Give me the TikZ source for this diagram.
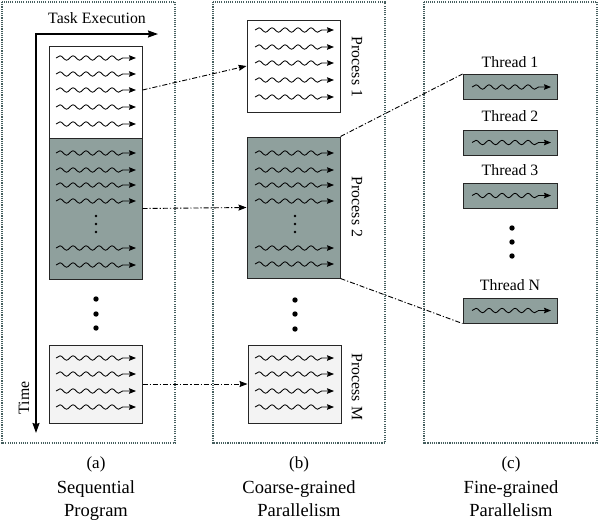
\documentclass[tikz,border=0pt]{standalone}
\usepackage{fontspec}
\setmainfont{Liberation Serif}
\usetikzlibrary{decorations.pathmorphing,arrows.meta}
\definecolor{darkfill}{RGB}{143,160,157}
\definecolor{lightfill}{RGB}{243,243,243}
\definecolor{framecol}{RGB}{70,95,95}
\begin{document}
\begin{tikzpicture}[x=1pt,y=-1pt,
  frame/.style={draw=framecol,line width=1.5pt,dash pattern=on 1.1pt off 1.1pt},
  blk/.style={draw=black!85,line width=1pt,inner sep=0pt,minimum width=93pt},
  whitebox/.style={blk,fill=white},
  darkbox/.style={blk,fill=darkfill},
  lightbox/.style={blk,fill=lightfill},
  threadbox/.style={draw=black!85,line width=1pt,fill=darkfill,inner sep=0pt,minimum width=94pt,minimum height=25pt},
  wave/.style={line width=0.85pt,-{Stealth[length=7pt,width=5.5pt,inset=1pt]},
    decorate,decoration={snake,segment length=13pt,amplitude=2.2pt,post length=8pt}},
  conn/.style={line width=0.9pt,dash pattern=on 5pt off 2pt on 1.2pt off 2pt},
  connarr/.style={conn,-{Stealth[length=8pt,width=6pt,inset=1pt]}},
  axis/.style={line width=1.5pt,{Stealth[length=10pt,width=7pt,inset=1pt]}-{Stealth[length=10pt,width=7pt,inset=1pt]}},
  lbl/.style={font=\fontsize{15.8}{18}\selectfont,inner sep=0pt},
  captext/.style={font=\fontsize{18.5}{22}\selectfont,inner sep=0pt,anchor=base},
  capletter/.style={font=\fontsize{17}{19}\selectfont,inner sep=0pt,anchor=base},
]
\useasboundingbox (0,0) rectangle (600,531);

% frames
\draw[frame] (2,2) rectangle (175,443);
\draw[frame] (213,2) rectangle (385,443);
\draw[frame] (424,2) rectangle (597,443);

% axis
\coordinate (axX) at (158,34);
\coordinate (axO) at (36,34);
\coordinate (axY) at (36,433);
\draw[axis] (axX) -- (axO) -- (axY);
\node[lbl] (task) at (97,18) {Task Execution};
\node[lbl,rotate=90] (time) at (24,398) {Time};

% sequential blocks
\node[whitebox,minimum height=92pt] (s1) at (95.5,92) {};
\node[darkbox,minimum height=141pt] (s2) at (95.5,208.5) {};
\node[lightbox,minimum height=78pt] (s3) at (95.5,384) {};
\foreach \y in {58,74,90,107,124,153,170,185,201,248,265,358,374,391,407}
  \draw[wave] (56,\y) -- (136,\y);
\foreach \y in {216,224,232} \fill (96,\y) circle (1.4pt);
\foreach \y in {299,314,328} \fill (96,\y) circle (2.7pt);

% processes
\node[whitebox,minimum height=92pt] (p1) at (293.5,66) {};
\node[darkbox,minimum height=141pt] (p2) at (293.5,207.5) {};
\node[lightbox,minimum height=78pt] (pm) at (294.5,384) {};
\foreach \y in {30,47,63,80,97,153,170,185,201,248,264,358,374,391,407}
  \draw[wave] (255,\y) -- (334,\y);
\foreach \y in {216,224,232} \fill (295,\y) circle (1.4pt);
\foreach \y in {300,314,329} \fill (295,\y) circle (2.7pt);
\node[lbl,rotate=-90] (lp1) at (357,67) {Process 1};
\node[lbl,rotate=-90] (lp2) at (357,207) {Process 2};
\node[lbl,rotate=-90] (lpm) at (357,387) {Process M};

% threads
\node[threadbox] (t1) at (510,87) {};
\node[threadbox] (t2) at (510,142.5) {};
\node[threadbox] (t3) at (510,195.5) {};
\node[threadbox] (tn) at (510,310.5) {};
\foreach \t in {t1,t2,t3,tn}
  \draw[wave] ([xshift=-38pt]\t.center) -- ([xshift=41pt]\t.center);
\node[lbl] (lt1) at (510,62) {Thread 1};
\node[lbl] (lt2) at (510,116) {Thread 2};
\node[lbl] (lt3) at (510,170) {Thread 3};
\node[lbl] (ltn) at (510,285) {Thread N};
\foreach \y in {228,242,256} \fill (512,\y) circle (2.7pt);

% connectors
\draw[connarr] ([yshift=2pt]s1.east) -- (p1.west);
\draw[connarr] (s2.east) -- (p2.west);
\draw[connarr] (s3.east) -- (pm.west);
\draw[conn] (p2.north east) -- (t1.north west);
\draw[conn] (p2.south east) -- (tn.south west);

% captions
\node[capletter] (ca) at (96,468) {(a)};
\node[captext] (ca1) at (96,493) {Sequential};
\node[captext] (ca2) at (96,516) {Program};
\node[capletter] (cb) at (299,468) {(b)};
\node[captext] (cb1) at (299,493) {Coarse-grained};
\node[captext] (cb2) at (299,516) {Parallelism};
\node[capletter] (cc) at (511,468) {(c)};
\node[captext] (cc1) at (511,493) {Fine-grained};
\node[captext] (cc2) at (511,516) {Parallelism};
\end{tikzpicture}
\end{document}
